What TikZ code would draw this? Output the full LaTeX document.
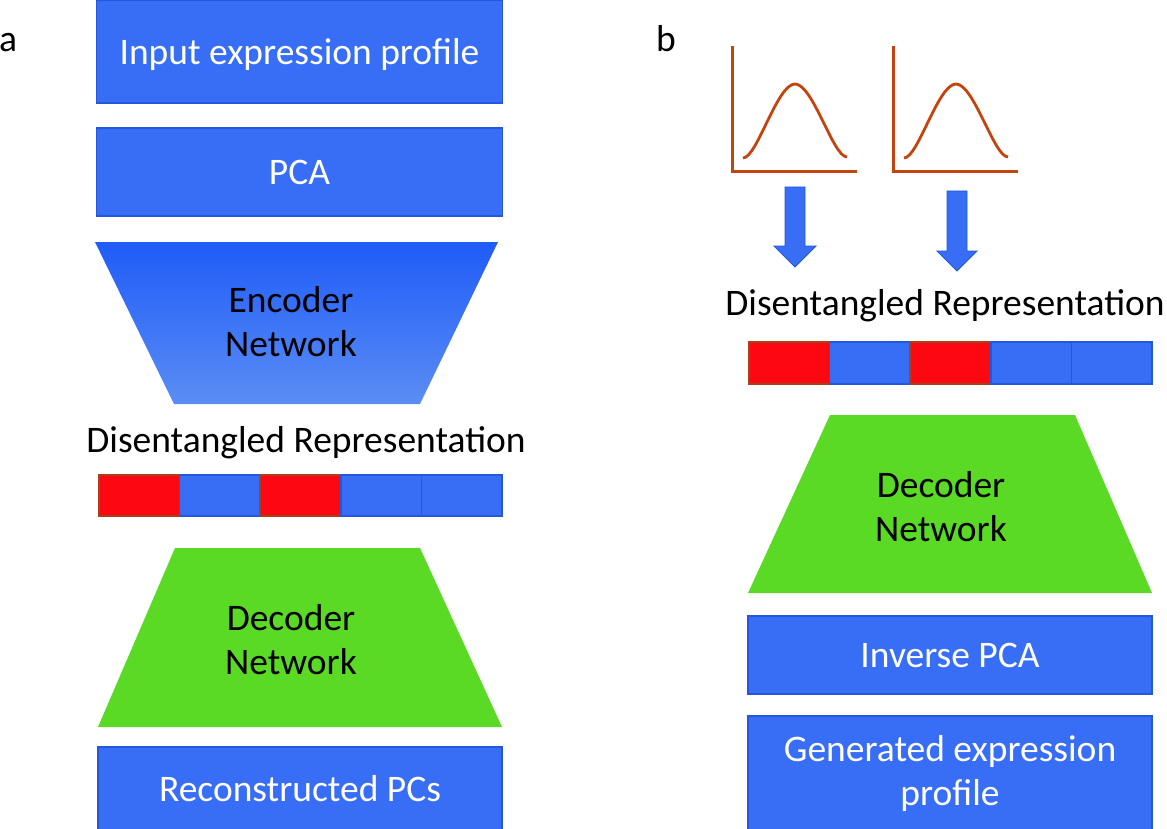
\documentclass[tikz,border=0pt]{standalone}
\usepackage{fontspec}
\setmainfont{Carlito}
\definecolor{boxblue}{HTML}{386EF6}
\definecolor{boxedge}{HTML}{2458DA}
\definecolor{encTop}{HTML}{1F5CF8}
\definecolor{encBot}{HTML}{5B8DF4}
\definecolor{decgreen}{HTML}{5AD925}
\definecolor{cellred}{HTML}{FC0813}
\definecolor{rededge}{HTML}{A8401C}
\definecolor{curve}{HTML}{C44410}
\tikzset{
  bigtext/.style={font=\fontsize{37.5}{44}\selectfont},
  pbox/.style={draw=boxedge, fill=boxblue, line width=1.2pt, text=white, bigtext, inner sep=0pt, align=center},
  cellb/.style={draw=boxedge, fill=boxblue, line width=1.5pt},
  cellr/.style={draw=rededge, fill=cellred, line width=1.5pt},
  blockarrow/.style={fill=boxblue, draw=boxedge, line width=0.8pt},
}
\begin{document}
\begin{tikzpicture}[x=1pt, y=-1pt]
\useasboundingbox (0,0) rectangle (1167,829);
% panel labels
\node[bigtext, anchor=base] (la) at (8,52) {a};
\node[bigtext, anchor=base] (lb) at (666,52) {b};

% ---- panel a: autoencoder ----
\node[pbox, minimum width=406, minimum height=103] (input) at (299.5,51.5) {};
\node[bigtext, text=white] (inputtxt) at (299.5,55) {Input expression profile};
\node[pbox, minimum width=406, minimum height=88] (pca) at (299.5,172) {PCA};
% encoder (inverted trapezoid)
\shade[top color=encTop, bottom color=encBot] (95,242) -- (498,242) -- (420,404) -- (174,404) -- cycle;
\node[bigtext, align=center] (enc) at (291,322) {Encoder\\Network};
\node[bigtext, anchor=base] (repa) at (306,452) {Disentangled Representation};
\foreach \i/\s in {0/cellr,1/cellb,2/cellr,3/cellb,4/cellb}
  \draw[\s] ({99+80.6*\i},475) rectangle ({99+80.6*(\i+1)},516);
% decoder (trapezoid)
\fill[decgreen] (175,548) -- (420,548) -- (502,727) -- (98,727) -- cycle;
\node[bigtext, align=center] (deca) at (291,640) {Decoder\\Network};
\node[pbox, minimum width=404, minimum height=84] (recon) at (300,789) {Reconstructed PCs};

% ---- panel b: generation ----
\foreach \x/\n in {732/1,893/2} {
  \draw[curve, line width=3pt] (\x,46) -- (\x,172) -- (\x+125,172);
  \draw[curve, line width=2.8pt] (\x+11,158) .. controls (\x+25,158) and (\x+45,84) .. (\x+63,84)
    .. controls (\x+81,84) and (\x+101,157) .. (\x+115,157);
}
\draw[blockarrow] (785,187) -- (805,187) -- (805,246) -- (816,246) -- (795,267) -- (774,246) -- (785,246) -- cycle;
\draw[blockarrow] (947,191) -- (967,191) -- (967,251) -- (977,251) -- (957,271) -- (937,251) -- (947,251) -- cycle;
\node[bigtext, anchor=base] (repb) at (945,315) {Disentangled Representation};
\foreach \i/\s in {0/cellr,1/cellb,2/cellr,3/cellb,4/cellb}
  \draw[\s] ({749+80.6*\i},342) rectangle ({749+80.6*(\i+1)},384);
\fill[decgreen] (830,415) -- (1075,415) -- (1152,593) -- (748,593) -- cycle;
\node[bigtext, align=center] (decb) at (941,507) {Decoder\\Network};
\node[pbox, minimum width=404, minimum height=78] (ipca) at (950,655) {Inverse PCA};
\node[pbox, minimum width=404, minimum height=114] (gen) at (950,773) {Generated expression\\profile};
\end{tikzpicture}
\end{document}
